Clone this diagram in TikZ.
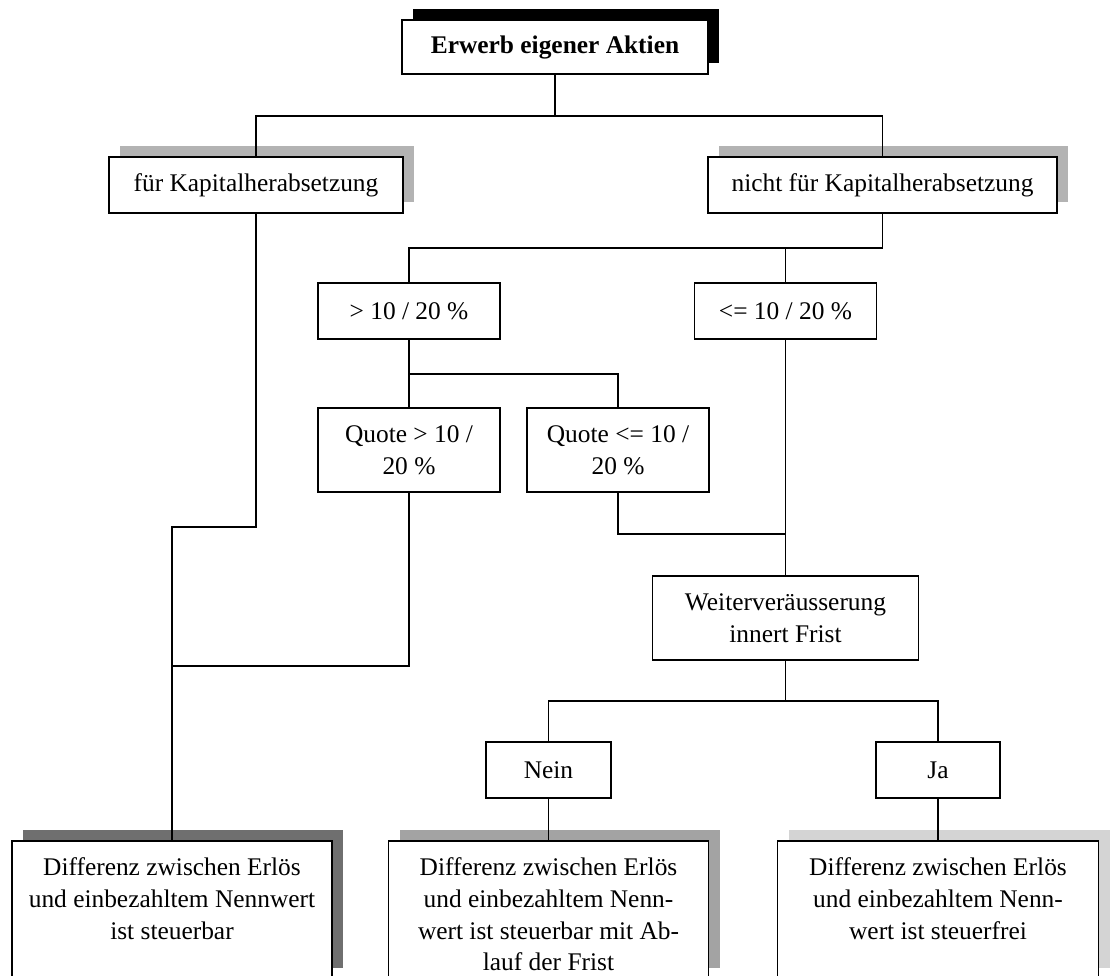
\documentclass[tikz,border=0pt]{standalone}
\usepackage{fontspec}
\setmainfont{Liberation Serif}
\usetikzlibrary{shadows}
\definecolor{shadebase}{RGB}{179,179,179}
\definecolor{shadedark}{RGB}{111,111,111}
\definecolor{shademid}{RGB}{163,163,163}
\definecolor{shadelight}{RGB}{212,212,212}
\newcommand{\restext}[1]{\parbox[t][113pt][t]{300pt}{\centering\strut #1}}
\tikzset{
    box/.style={draw,line width=1.5pt,fill=white,inner sep=0pt,align=center,
        font=\fontsize{25.4}{31.7}\selectfont},
    backshade/.style={drop shadow={shadow xshift=11pt,shadow yshift=11pt,fill=#1,opacity=1}},
    resultbox/.style={box,anchor=north,minimum width=320pt,inner ysep=12.8pt},
    link/.style={line width=1.6pt}
}
\begin{document}
\begin{tikzpicture}[x=1pt,y=-1pt]
    \useasboundingbox (0,0) rectangle (1114,976);
    % Levels of the junctions
    \coordinate (split1) at (0,116);
    \coordinate (split2) at (0,248);
    \coordinate (split3) at (0,374);
    \coordinate (merge2) at (0,527);
    \coordinate (merge1) at (0,534);
    \coordinate (merge3) at (0,666);
    \coordinate (split4) at (0,701);
    % Root
    \node[box,backshade=black,minimum width=306pt,minimum height=54pt] (top) at (555,47) {\textbf{Erwerb eigener Aktien}};
    % Purpose
    \node[box,backshade=shadebase,minimum width=294pt,minimum height=56pt] (kapL) at (256,185) {für Kapitalherabsetzung};
    \node[box,backshade=shadebase,minimum width=349pt,minimum height=56pt] (kapR) at (882.5,185) {nicht für Kapitalherabsetzung};
    % Share
    \node[box,minimum width=182pt,minimum height=56pt] (gt) at (409,311) {> 10 / 20 \%};
    \node[box,minimum width=182pt,minimum height=56pt] (le) at (785.5,311) {<= 10 / 20 \%};
    % Quota
    \node[box,minimum width=182pt,minimum height=84pt] (qgt) at (409,450) {Quote > 10 /\\20 \%};
    \node[box,minimum width=182pt,minimum height=84pt] (qle) at (618,450) {Quote <= 10 /\\20 \%};
    % Period
    \node[box,minimum width=266pt,minimum height=84pt] (frist) at (785.5,618) {Weiterveräusserung\\innert Frist};
    \node[box,minimum width=125pt,minimum height=56pt] (nein) at (548.5,770) {Nein};
    \node[box,minimum width=124pt,minimum height=56pt] (ja) at (938,770) {Ja};
    % Results
    \node[resultbox,backshade=shadedark] (res1) at (172,840) {\restext{Differenz zwischen Erlös\\und einbezahltem Nennwert\\ist steuerbar}};
    \node[resultbox,backshade=shademid] (res2) at (548.5,840) {\restext{Differenz zwischen Erlös\\und einbezahltem Nenn-\\wert ist steuerbar mit Ab-\\lauf der Frist}};
    \node[resultbox,backshade=shadelight,minimum width=321pt] (res3) at (938,840) {\restext{Differenz zwischen Erlös\\und einbezahltem Nenn-\\wert ist steuerfrei}};
    % Connectors
    \draw[link] (top.south) -- (top.south |- split1) -| (kapL.north);
    \draw[link] (top.south |- split1) -| (kapR.north);
    \draw[link] (kapR.south) -- (kapR.south |- split2) -| (gt.north);
    \draw[link] (kapR.south |- split2) -| (le.north);
    \draw[link] (gt.south) -- (gt.south |- split3) -| (qle.north);
    \draw[link] (gt.south |- split3) -- (qgt.north);
    \draw[link] (le.south) -- (frist.north);
    \draw[link] (qle.south) |- (le.south |- merge1);
    \draw[link] (kapL.south) |- (res1.north |- merge2) -- (res1.north);
    \draw[link] (qgt.south) |- (res1.north |- merge3);
    \draw[link] (frist.south) -- (frist.south |- split4) -| (nein.north);
    \draw[link] (frist.south |- split4) -| (ja.north);
    \draw[link] (nein.south) -- (res2.north);
    \draw[link] (ja.south) -- (res3.north);
\end{tikzpicture}
\end{document}
